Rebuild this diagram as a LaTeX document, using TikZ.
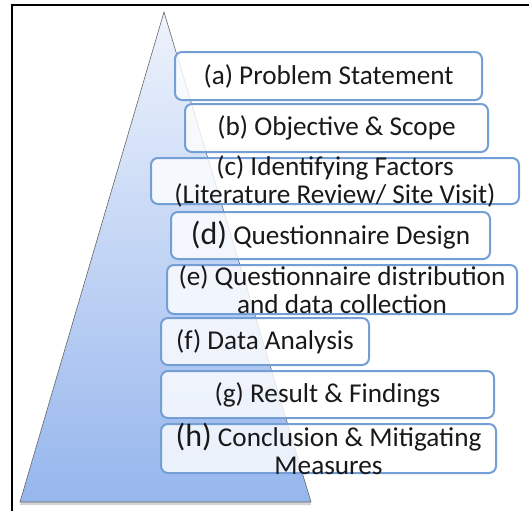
\documentclass[tikz,border=0pt]{standalone}
\usepackage{fontspec}
\setmainfont{Carlito}
\usepackage{xcolor}
\usetikzlibrary{shadows}

\definecolor{stageblue}{RGB}{116,158,214}
\definecolor{pyrtop}{RGB}{238,243,252}
\definecolor{pyrbottom}{RGB}{150,182,237}

\begin{document}
\begin{tikzpicture}[x=1pt,y=-1pt]
		\tikzset{stage/.style = {shape=rectangle, rounded corners=7pt, draw=stageblue, line width=2pt, fill=white, fill opacity=0.8, inner sep=0pt}}
		\tikzset{stagetext/.style = {align=center, inner sep=0pt, text=black!90, font=\fontsize{27.2}{28}\selectfont}}
		\newcommand{\biglabel}[1]{{\fontsize{32}{28}\selectfont #1}}

		\useasboundingbox (0,0) rectangle (529,511);

		% frame
		\draw[line width=1.6pt] (12,511) -- (12,5) -- (529,5);

		% pyramid
		\shade[top color=pyrtop, bottom color=pyrbottom, drop shadow={shadow xshift=0pt, shadow yshift=-3pt, opacity=0.35}]
			(164,12) -- (311,502) -- (20,502) -- cycle;
		\draw[black!60, line width=0.6pt] (164,12) -- (311,502) -- (20,502) -- cycle;

		% stages
		\node[stage, minimum width=307, minimum height=48] (S_1) at (328.5,76) {};
		\node[stage, minimum width=303, minimum height=48] (S_2) at (336.5,128) {};
		\node[stage, minimum width=368, minimum height=46] (S_3) at (335,181) {};
		\node[stage, minimum width=319, minimum height=47] (S_4) at (330.5,235.5) {};
		\node[stage, minimum width=350, minimum height=49] (S_5) at (342,289.5) {};
		\node[stage, minimum width=208, minimum height=47] (S_6) at (265,341.5) {};
		\node[stage, minimum width=333, minimum height=47] (S_7) at (327.5,394.5) {};
		\node[stage, minimum width=335, minimum height=49] (S_8) at (328.5,448.5) {};

		\node[stagetext] (T_1) at (S_1) {(a) Problem Statement};
		\node[stagetext] (T_2) at (S_2) {(b) Objective \& Scope};
		\node[stagetext] (T_3) at (S_3) {(c) Identifying Factors\\(Literature Review/ Site Visit)};
		\node[stagetext] (T_4) at (S_4) {\biglabel{(d)} Questionnaire Design};
		\node[stagetext] (T_5) at (S_5) {(e) Questionnaire distribution\\and data collection};
		\node[stagetext] (T_6) at (S_6) {(f) Data Analysis};
		\node[stagetext] (T_7) at (S_7) {(g) Result \& Findings};
		\node[stagetext] (T_8) at (S_8) {\biglabel{(h)} Conclusion \& Mitigating\\Measures};

	\end{tikzpicture}
\end{document}
